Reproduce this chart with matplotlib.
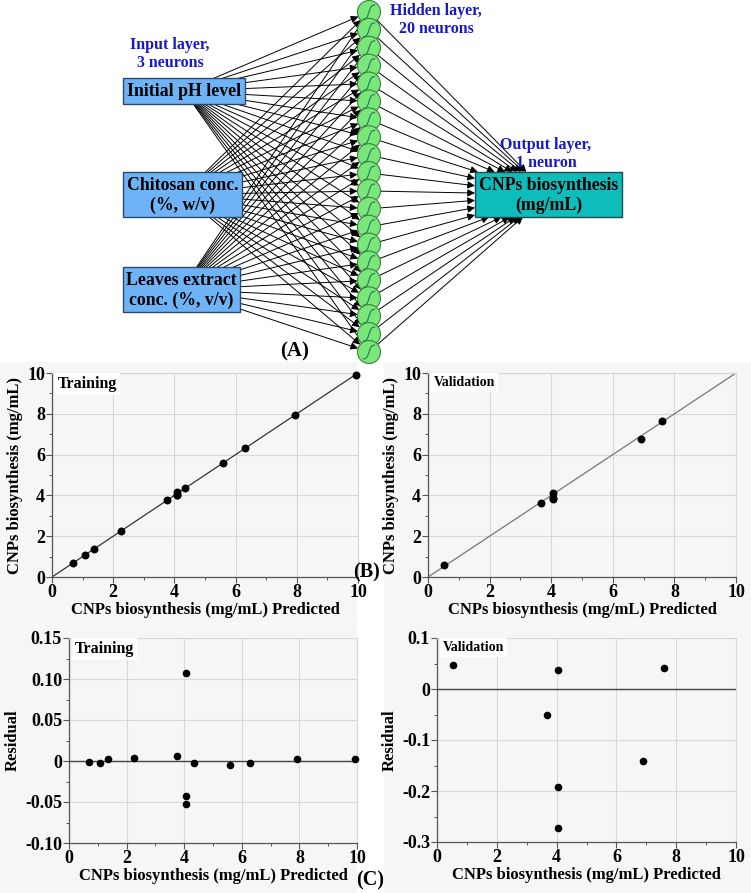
import numpy as np
import matplotlib
matplotlib.use("Agg")
import matplotlib.pyplot as plt
from matplotlib.patches import Rectangle, Circle
from matplotlib.ticker import MultipleLocator, FixedLocator

plt.rcParams['font.family'] = ['Liberation Serif', 'DejaVu Serif']
plt.rcParams['font.weight'] = 'bold'

# ---- data ----
input_labels = ['Initial pH level', 'Chitosan conc.\n(%, w/v)', 'Leaves extract\nconc. (%, v/v)']
n_hidden = 20
output_label = 'CNPs biosynthesis\n(mg/mL)'

train_pred = [0.68, 1.08, 1.36, 2.26, 3.76, 4.07, 4.07, 4.07, 4.34, 5.58, 6.30, 7.93, 9.92]
train_actual = [0.68, 1.08, 1.36, 2.26, 3.77, 4.18, 4.03, 4.01, 4.34, 5.57, 6.30, 7.93, 9.92]
train_resid = [-0.001, -0.003, 0.002, 0.004, 0.006, 0.107, -0.043, -0.053, -0.002, -0.005, -0.0025, 0.002, 0.0025]

val_pred = [0.53, 3.68, 4.06, 4.06, 4.06, 6.90, 7.59]
val_actual = [0.59, 3.64, 4.11, 3.88, 3.80, 6.77, 7.64]
val_resid = [0.048, -0.050, 0.037, -0.192, -0.272, -0.142, 0.042]

W, H = 751, 893
fig = plt.figure(figsize=(W / 100, H / 100), dpi=100)
fig.patch.set_facecolor('white')


def px_axes(x0, y0, x1, y1):
    return fig.add_axes([x0 / W, 1 - y1 / H, (x1 - x0) / W, (y1 - y0) / H])


# light grey panel backgrounds
bg = '#f6f6f6'
for (x0, y0, x1, y1) in [(0, 362, 356, 622), (384, 362, 751, 622),
                         (0, 624, 356, 893), (384, 624, 751, 893)]:
    fig.add_artist(Rectangle((x0 / W, 1 - y1 / H), (x1 - x0) / W, (y1 - y0) / H,
                             transform=fig.transFigure, color=bg, zorder=-5))

# ================= (A) network diagram =================
ax = px_axes(0, 0, W, 365)
ax.set_xlim(0, W)
ax.set_ylim(365, 0)
ax.axis('off')

in_boxes = [(123, 78, 245, 104), (123, 172, 242, 217), (123, 267, 240, 312)]
out_box = (475, 172, 622, 217)
hx, r = 369, 11.5
hy = np.linspace(12, 352, n_hidden)

arrow_kw = dict(arrowstyle='-|>', color='black', lw=0.7, mutation_scale=11,
                shrinkA=0, shrinkB=0)

# input -> hidden
for (x0, y0, x1, y1), lab in zip(in_boxes, input_labels):
    cx, cy = (x0 + x1) / 2, (y0 + y1) / 2
    for y in hy:
        d = np.array([hx - cx, y - cy])
        u = d / np.hypot(*d)
        end = (hx - r * u[0], y - r * u[1])
        ax.annotate('', xy=end, xytext=(cx, cy), arrowprops=arrow_kw, zorder=1)
    ax.add_patch(Rectangle((x0, y0), x1 - x0, y1 - y0, facecolor='#6fb3f7',
                           edgecolor='#2b4a6b', lw=1, zorder=2))
    ax.text(cx, cy + 1, lab, ha='center', va='center', fontsize=12.8,
            fontweight='bold', linespacing=1.15, zorder=3)

# hidden -> output
ox0, oy0, ox1, oy1 = out_box
ocx, ocy = (ox0 + ox1) / 2, (oy0 + oy1) / 2
for y in hy:
    dx, dy = ocx - hx, ocy - y
    tx = (ox0 - hx) / dx
    if y < oy0:
        ty = (oy0 - y) / dy
    elif y > oy1:
        ty = (oy1 - y) / dy
    else:
        ty = 0
    t = max(tx, ty)
    ax.annotate('', xy=(hx + t * dx, y + t * dy), xytext=(hx, y),
                arrowprops=arrow_kw, zorder=1)
ax.add_patch(Rectangle((ox0, oy0), ox1 - ox0, oy1 - oy0, facecolor='#0fbcbc',
                       edgecolor='#1d4f4f', lw=1, zorder=2))
ax.text(ocx, ocy + 1, output_label, ha='center', va='center', fontsize=12.8,
        fontweight='bold', linespacing=1.15, zorder=3)

# hidden neurons with sigmoid glyph
tt = np.linspace(-1, 1, 40)
for i, y in enumerate(hy):
    z = 5 + i * 0.01
    ax.add_patch(Circle((hx, y), r, facecolor='#79e879', edgecolor='#3f7f3f',
                        lw=0.8, zorder=z))
    ax.plot(hx + 5.5 * tt, y - 7 * np.tanh(2.5 * tt), color='#2f7d64', lw=0.9,
            zorder=z + 0.005)

blue = '#1818c8'
ax.text(170, 54, 'Input layer,\n3 neurons', ha='center', va='center', color=blue,
        fontsize=11.5, fontweight='bold', linespacing=1.2)
ax.text(436, 20, 'Hidden layer,\n20 neurons', ha='center', va='center', color=blue,
        fontsize=11.5, fontweight='bold', linespacing=1.2)
ax.text(546, 154, 'Output layer,\n1 neuron', ha='center', va='center', color=blue,
        fontsize=11.5, fontweight='bold', linespacing=1.2)
ax.text(295, 351, '(A)', ha='center', va='center', fontsize=15, fontweight='bold')

# ================= (B), (C) plots =================
grid_c = '#d8d8d8'
spine_c = '#555555'


def style(a, xlabel, ylabel, label, label_fs):
    a.set_facecolor(bg)
    a.set_xlim(0, 10)
    a.xaxis.set_major_locator(MultipleLocator(2))
    a.xaxis.set_minor_locator(MultipleLocator(1))
    a.grid(True, which='major', color=grid_c, lw=0.8)
    a.set_axisbelow(True)
    for s in ['top', 'right']:
        a.spines[s].set_color(grid_c)
        a.spines[s].set_linewidth(0.8)
    for s in ['left', 'bottom']:
        a.spines[s].set_color(spine_c)
        a.spines[s].set_linewidth(0.9)
    a.tick_params(which='major', direction='out', length=4, width=0.8,
                  color=spine_c, labelsize=13, pad=1)
    a.tick_params(which='minor', direction='out', length=2.5, width=0.7, color=spine_c)
    for t in a.get_xticklabels() + a.get_yticklabels():
        t.set_fontweight('bold')
    a.set_xlabel(xlabel, fontsize=12, fontweight='bold', labelpad=1)
    a.set_ylabel(ylabel, fontsize=12, fontweight='bold', labelpad=3)
    a.text(0.02, 0.985, label, transform=a.transAxes, ha='left', va='top',
           fontsize=label_fs, fontweight='bold', zorder=6,
           bbox=dict(facecolor='white', edgecolor='none', pad=2))


xlab = 'CNPs biosynthesis (mg/mL) Predicted'
ylab = 'CNPs biosynthesis (mg/mL)'

# B left: training
a1 = px_axes(52, 373, 358, 577)
a1.plot([0, 10], [0, 10], color='#333333', lw=0.9)
a1.scatter(train_pred, train_actual, s=22, color='black', zorder=5, clip_on=False)
a1.set_ylim(0, 10)
a1.yaxis.set_major_locator(MultipleLocator(2))
a1.yaxis.set_minor_locator(MultipleLocator(1))
style(a1, xlab, ylab, 'Training', 11.5)

# B right: validation
a2 = px_axes(428, 373, 736, 577)
a2.plot([0, 10], [0, 10], color='#777777', lw=0.9)
a2.scatter(val_pred, val_actual, s=22, color='black', zorder=5)
a2.set_ylim(0, 10)
a2.yaxis.set_major_locator(MultipleLocator(2))
a2.yaxis.set_minor_locator(MultipleLocator(1))
style(a2, xlab, ylab, 'Validation', 10)

# C left: training residuals
a3 = px_axes(69, 638, 357, 843)
a3.axhline(0, color='#444444', lw=1)
a3.scatter(train_pred, train_resid, s=20, color='black', zorder=5, clip_on=False)
a3.set_ylim(-0.10, 0.15)
a3.yaxis.set_major_locator(FixedLocator([-0.10, -0.05, 0, 0.05, 0.10, 0.15]))
a3.yaxis.set_minor_locator(MultipleLocator(0.025))
a3.set_yticklabels(['-0.10', '-0.05', '0', '0.05', '0.10', '0.15'])
style(a3, xlab, 'Residual', 'Training', 11.5)

# C right: validation residuals
a4 = px_axes(437, 638, 736, 842)
a4.axhline(0, color='#444444', lw=1)
a4.scatter(val_pred, val_resid, s=20, color='black', zorder=5)
a4.set_ylim(-0.3, 0.1)
a4.yaxis.set_major_locator(FixedLocator([-0.3, -0.2, -0.1, 0, 0.1]))
a4.yaxis.set_minor_locator(MultipleLocator(0.05))
a4.set_yticklabels(['-0.3', '-0.2', '-0.1', '0', '0.1'])
style(a4, xlab, 'Residual', 'Validation', 10)

fig.text(367 / W, 1 - 572 / H, '(B)', ha='center', va='center', fontsize=14.5,
         fontweight='bold')
fig.text(370 / W, 1 - 880 / H, '(C)', ha='center', va='center', fontsize=14.5,
         fontweight='bold')

fig.savefig('out.png', dpi=100)
